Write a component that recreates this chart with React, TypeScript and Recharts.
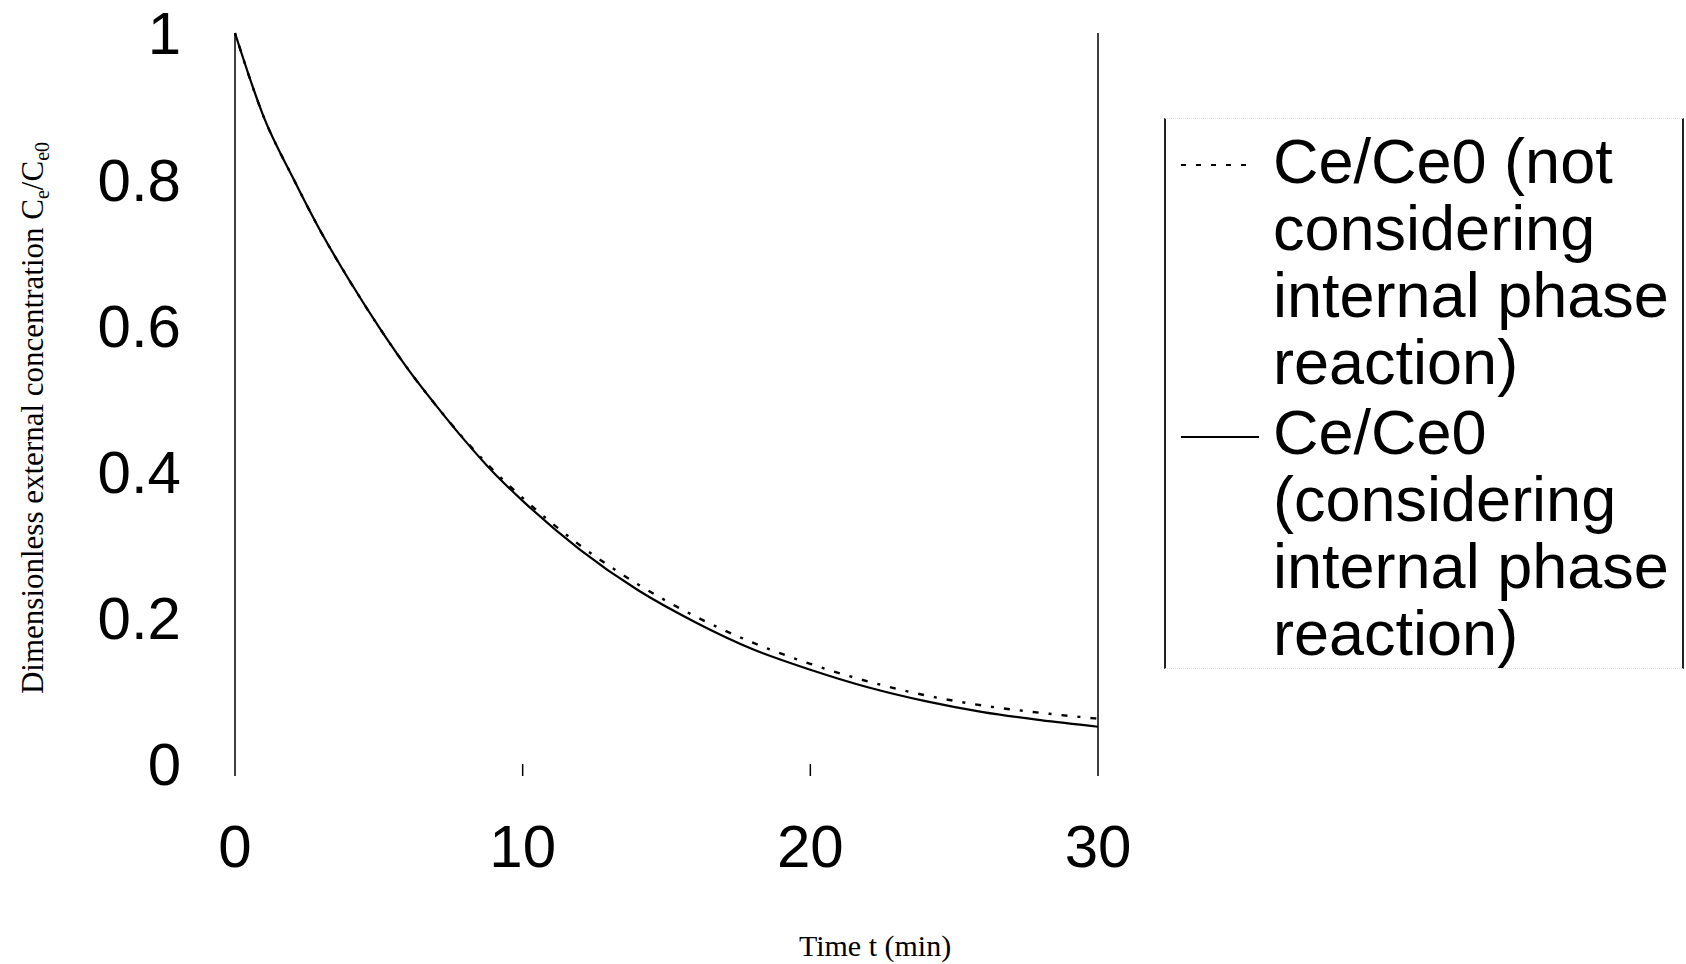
import React from 'react';
import { LineChart, Line, XAxis, YAxis, ReferenceLine, Legend, Label } from 'recharts';

const timeMin = [0, 1, 2, 3, 4, 5, 6, 7, 8, 9, 10, 12, 14, 16, 18, 20, 22, 24, 26, 28, 30];
const ceConsidering = [1.0, 0.885, 0.803, 0.727, 0.66, 0.598, 0.541, 0.49, 0.442, 0.398, 0.36, 0.293, 0.238, 0.194, 0.157, 0.129, 0.105, 0.086, 0.071, 0.06, 0.051];
const ceNotConsidering = [1.0, 0.885, 0.803, 0.727, 0.66, 0.598, 0.541, 0.49, 0.443, 0.401, 0.364, 0.299, 0.246, 0.202, 0.166, 0.137, 0.113, 0.094, 0.08, 0.07, 0.062];
const xTicks = [0, 10, 20, 30];
const yTicks = [0, 0.2, 0.4, 0.6, 0.8, 1];
const legendLines = [
  ['Ce/Ce0 (not', 'considering', 'internal phase', 'reaction)'],
  ['Ce/Ce0', '(considering', 'internal phase', 'reaction)'],
];
const seriesNames = [
  'Ce/Ce0 (not considering internal phase reaction)',
  'Ce/Ce0 (considering internal phase reaction)',
];

const data = timeMin.map((t, i) => ({
  t,
  notConsidering: ceNotConsidering[i],
  considering: ceConsidering[i],
}));

const SANS = '"Liberation Sans", Arial, Helvetica, sans-serif';
const SERIF = '"Liberation Serif", "Times New Roman", serif';

const renderLegend = () => (
  <div
    style={{
      position: 'relative',
      width: 520,
      height: 551,
      boxSizing: 'border-box',
      borderLeft: '2px solid #222',
      borderRight: '2px solid #222',
      borderTop: '1px dotted #e2e2e2',
      borderBottom: '1px dotted #e2e2e2',
      fontFamily: SANS,
      fontSize: 63,
      lineHeight: '67px',
      color: '#000',
      background: 'transparent',
    }}
  >
    {legendLines.map((lines, i) => (
      <div key={i} style={{ position: 'absolute', left: 107, top: i === 0 ? 9 : 280, whiteSpace: 'nowrap' }}>
        {lines.map((l, j) => (
          <div key={j}>{l}</div>
        ))}
      </div>
    ))}
    <svg style={{ position: 'absolute', left: 0, top: 0 }} width={520} height={551}>
      <line x1={15} x2={84} y1={46} y2={46} stroke="#000" strokeWidth={2} strokeDasharray="5 10" />
      <line x1={15} x2={93} y1={318} y2={318} stroke="#000" strokeWidth={2} />
    </svg>
  </div>
);

export default function App() {
  return (
    <div style={{ position: 'absolute', left: 0, top: 0, width: 1686, height: 964, background: '#fff' }}>
      <LineChart width={1686} height={964} data={data} margin={{ top: 33, right: 588, bottom: 0, left: 0 }}>
        <XAxis
          dataKey="t"
          type="number"
          domain={[0, 30]}
          ticks={xTicks}
          interval={0}
          axisLine={false}
          tickLine={{ stroke: '#000', strokeWidth: 1.5 }}
          tickSize={12}
          tickMargin={48}
          height={200}
          tick={{ fill: '#000', fontSize: 60, fontFamily: SANS }}
        >
          <Label
            content={() => (
              <text x={875} y={956} textAnchor="middle" fontFamily={SERIF} fontSize={30} fill="#000">
                Time t (min)
              </text>
            )}
          />
        </XAxis>
        <YAxis
          type="number"
          domain={[0, 1]}
          ticks={yTicks}
          interval={0}
          width={235}
          axisLine={{ stroke: '#000', strokeWidth: 1.5 }}
          tickLine={false}
          tickSize={0}
          tickMargin={54}
          tick={{ fill: '#000', fontSize: 60, fontFamily: SANS }}
        >
          <Label
            content={() => (
              <text
                x={43}
                y={418}
                transform="rotate(-90 43 418)"
                textAnchor="middle"
                fontFamily={SERIF}
                fontSize={31}
                fill="#000"
              >
                Dimensionless external concentration C
                <tspan dy={6} fontSize={20}>e</tspan>
                <tspan dy={-6}>/C</tspan>
                <tspan dy={6} fontSize={20}>e0</tspan>
              </text>
            )}
          />
        </YAxis>
        <ReferenceLine x={30} stroke="#000" strokeWidth={1.5} />
        <Line
          name={seriesNames[1]}
          dataKey="considering"
          type="monotone"
          stroke="#000"
          strokeWidth={2.2}
          dot={false}
          activeDot={false}
          isAnimationActive={false}
        />
        <Line
          name={seriesNames[0]}
          dataKey="notConsidering"
          type="monotone"
          stroke="#000"
          strokeWidth={2.4}
          strokeDasharray="3 10 6 10"
          dot={false}
          activeDot={false}
          isAnimationActive={false}
        />
        <Legend
          layout="vertical"
          align="center"
          verticalAlign="middle"
          content={renderLegend}
          wrapperStyle={{ left: 1164, top: 118, width: 520, height: 551 }}
        />
      </LineChart>
    </div>
  );
}
